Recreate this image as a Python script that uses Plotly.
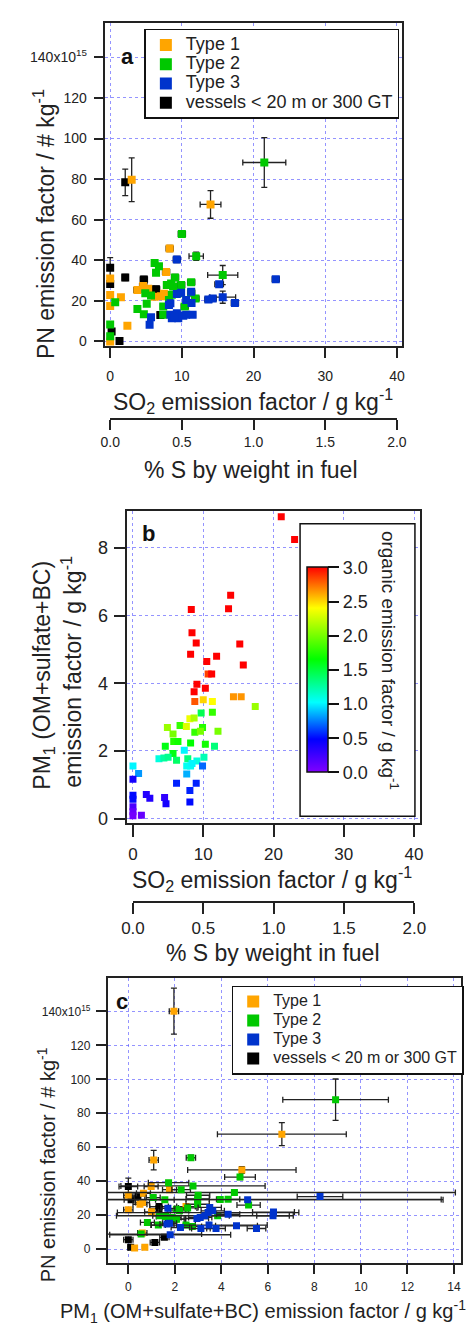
import plotly.graph_objects as go

W, H = 474, 1324

# ---------------- DATA ----------------
# Panel a: SO2 emission factor (g/kg) vs PN emission factor (1e15 #/kg)
a_t1_so2 = [14.0, 3.0, 8.3, 0.0, 0.0, 0.0, 1.5, 2.4, 0.0, 3.8, 4.6, 7.8, 6.2, 7.1, 5.3, 7.5]
a_t1_pn = [67.5, 79.7, 45.8, 31.0, 22.9, 17.5, 21.7, 7.7, 0.0, 25.3, 27.3, 34.2, 22.0, 22.2, 26.0, 23.5]
a_t1_so2_err = [1.45, 0.3, 0.5, 0.2, 0.2, 0.2, 0.3, 0.3, 0.2, 0.5, 0.5, 0.5, 0.4, 0.4, 0.4, 0.4]
a_t1_pn_err = [6.8, 10.8, 1.5, 1.0, 1.0, 1.0, 1.0, 1.0, 0.5, 1.5, 1.5, 1.5, 1.2, 1.2, 1.2, 1.2]

a_t2_so2 = [21.5, 10.0, 12.0, 15.7, 6.2, 6.8, 6.4, 9.05, 11.3, 7.9, 8.8, 9.9, 4.9, 5.7, 0.7,
            5.1, 3.8, 4.7, 7.4, 7.4, 8.2, 10.4, 11.9, 11.3, 0.0, 0.0, 8.6, 9.5, 8.5]
a_t2_pn = [88.2, 53.0, 42.0, 32.7, 38.7, 37.0, 33.8, 31.5, 29.2, 27.8, 27.0, 27.8, 23.7, 22.6, 19.3,
           18.5, 16.0, 13.4, 17.2, 13.1, 20.4, 17.2, 21.2, 24.0, 8.3, 2.5, 23.0, 23.7, 28.5]
a_t2_so2_err = [3.0, 0.5, 1.0, 2.1, 0.4, 0.4, 0.4, 0.5, 0.5, 0.4, 0.5, 0.5, 0.3, 0.3, 0.2,
                0.3, 0.3, 0.3, 0.4, 0.4, 0.4, 0.5, 0.5, 0.5, 0.1, 0.1, 0.4, 0.5, 0.4]
a_t2_pn_err = [12.3, 1.5, 2.0, 4.7, 1.2, 1.2, 1.2, 1.5, 1.2, 1.2, 1.2, 1.2, 1.0, 1.0, 1.0,
               1.0, 1.0, 1.0, 1.0, 1.0, 1.0, 1.0, 1.0, 1.0, 0.5, 0.5, 1.0, 1.0, 1.0]

a_t3_so2 = [23.1, 15.2, 15.7, 17.4, 13.7, 14.3, 9.3, 9.3, 9.9, 11.3, 10.6, 11.35, 8.2, 5.7, 5.5,
            8.4, 9.3, 8.6, 9.5, 10.2, 10.6, 11.5, 9.0, 8.4]
a_t3_pn = [30.6, 28.2, 21.8, 18.9, 20.7, 21.2, 40.4, 23.4, 24.0, 24.5, 20.4, 18.9, 18.0, 11.9, 8.2,
           13.1, 13.9, 11.4, 11.4, 12.6, 13.1, 13.1, 12.0, 18.8]
a_t3_so2_err = [0.5, 0.6, 1.8, 0.5, 0.5, 0.5, 0.5, 0.4, 0.4, 0.4, 0.4, 0.4, 0.4, 0.3, 0.3,
                0.4, 0.4, 0.4, 0.4, 0.4, 0.4, 0.4, 0.4, 0.4]
a_t3_pn_err = [1.0, 1.0, 3.0, 1.0, 1.0, 1.0, 1.5, 1.0, 1.0, 1.0, 1.0, 1.0, 1.0, 0.8, 0.8,
               0.8, 0.8, 0.8, 0.8, 0.8, 0.8, 0.8, 0.8, 1.0]

a_v_so2 = [2.1, 0.0, 0.0, 2.1, 4.7, 5.7, 6.4, 0.2, 1.3, 7.0]
a_v_pn = [78.4, 36.3, 28.3, 31.5, 30.5, 25.5, 25.7, 4.9, 0.2, 13.0]
a_v_so2_err = [0.3, 0.2, 0.2, 0.4, 0.5, 0.5, 0.5, 0.2, 0.2, 0.4]
a_v_pn_err = [6.5, 5.0, 1.5, 1.5, 1.5, 1.5, 1.5, 1.0, 0.5, 1.0]

# Panel b: SO2 (g/kg) vs PM1 (g/kg), colour = organic emission factor (g/kg)
b_so2 = [21.1, 23.0, 8.3, 13.9, 13.6, 8.4, 9.0, 8.2, 15.2, 15.7, 10.5, 11.9, 10.7, 11.2, 9.1,
         10.3, 8.7, 8.8, 10.0, 11.3, 14.3, 15.4, 17.4, 9.7, 11.3, 8.1, 8.7, 4.9, 6.7, 7.6,
         9.9, 8.8, 9.6, 12.1, 5.7, 5.8, 6.4, 8.2, 10.3, 11.6, 4.6, 7.3, 5.7, 3.7, 4.4,
         5.0, 6.2, 7.8, 9.1, 10.1, 7.65, 8.2, 8.4, 9.9, 7.65, 0.0, 0.8, 0.0, 6.2, 9.0,
         8.1, 0.0, 0.0, 1.9, 2.4, 4.5, 4.7, 8.1, 0.0, 0.0, 0.0, 1.2]
b_pm1 = [8.92, 8.25, 6.18, 6.6, 6.2, 5.49, 5.19, 4.86, 5.16, 4.54, 4.64, 4.8, 4.27, 4.27, 3.97,
         3.85, 3.75, 3.46, 3.51, 3.46, 3.6, 3.6, 3.31, 3.12, 3.14, 2.95, 2.97, 2.69, 2.75, 2.72,
         2.69, 2.55, 2.58, 2.58, 2.5, 2.28, 2.28, 2.23, 2.2, 2.14, 2.14, 2.02, 1.92, 1.77, 1.79,
         1.81, 1.72, 1.77, 1.7, 1.81, 1.55, 1.55, 1.63, 1.55, 1.32, 1.55, 1.33, 1.16, 1.04, 1.04,
         0.83, 0.69, 0.57, 0.71, 0.6, 0.62, 0.44, 0.49, 0.35, 0.2, 0.08, 0.1]
b_org = [3.5, 3.5, 3.5, 3.5, 3.5, 3.5, 3.5, 3.5, 3.5, 3.5, 3.5, 3.5, 2.85, 3.2, 3.0,
         3.3, 3.2, 2.8, 2.5, 2.4, 2.65, 2.65, 2.1, 1.45, 1.8, 2.35, 2.15, 2.1, 1.8, 2.3,
         1.75, 1.8, 2.0, 2.0, 2.0, 1.75, 1.7, 1.65, 1.7, 1.35, 1.6, 1.0, 1.6, 1.1, 1.25,
         1.3, 1.4, 1.35, 1.1, 1.2, 1.05, 1.05, 1.0, 0.7, 0.85, 1.0, 0.8, 0.4, 0.55, 0.55,
         0.55, 0.5, 0.5, 0.35, 0.35, 0.3, 0.4, 0.5, 0.2, 0.1, 0.05, 0.1]

# Panel c: PM1 (g/kg) vs PN (1e15 #/kg)
c_t1_pm1 = [1.96, 6.6, 1.09, 4.88, 0.98, 1.77, 0.0, 0.65, 0.5, 0.61, 0.0, 1.0, 2.48, 0.27, 0.71, 0.6]
c_t1_pn = [140.2, 67.7, 52.4, 46.6, 36.8, 35.0, 31.7, 32.8, 26.4, 27.4, 23.1, 21.9, 25.0, 0.6, 1.0, 9.5]
c_t1_pm1_err = [0.2, 2.77, 0.2, 2.33, 0.3, 0.3, 0.2, 0.3, 0.3, 0.3, 0.2, 0.3, 0.4, 0.1, 0.1, 0.2]
c_t1_pn_err = [13.6, 6.8, 5.7, 2.0, 1.5, 1.0, 1.0, 1.0, 1.0, 1.0, 1.0, 1.0, 1.0, 0.5, 0.5, 0.5]

c_t2_pm1 = [8.91, 2.69, 4.8, 1.73, 2.78, 2.27, 3.0, 4.56, 1.07, 1.57, 2.98, 3.95, 4.29, 5.17, 2.98,
            2.07, 2.2, 2.55, 3.84, 1.35, 1.87, 2.07, 0.82, 1.29, 2.48, 2.75, 0.55, 1.6, 2.0]
c_t2_pn = [88.0, 53.8, 42.4, 39.1, 37.2, 35.0, 31.7, 33.3, 30.3, 29.1, 29.5, 29.2, 29.3, 25.9, 26.4,
           23.5, 22.5, 24.2, 19.6, 19.6, 18.6, 17.6, 15.7, 14.1, 14.1, 13.3, 8.8, 19.2, 17.6]
c_t2_pm1_err = [2.27, 0.2, 0.66, 0.87, 3.1, 0.4, 0.5, 9.5, 0.3, 0.4, 0.5, 9.5, 0.5, 0.5, 0.5,
                0.4, 0.4, 0.4, 0.5, 0.3, 0.4, 0.4, 0.3, 0.3, 0.4, 0.4, 2.6, 0.4, 0.4]
c_t2_pn_err = [12.2, 1.5, 1.5, 1.0, 1.0, 1.0, 1.0, 1.0, 1.0, 1.0, 1.0, 1.0, 1.0, 1.0, 1.0,
               1.0, 1.0, 1.0, 1.0, 1.0, 1.0, 1.0, 1.0, 1.0, 1.0, 1.0, 0.8, 1.0, 1.0]

c_t3_pm1 = [8.24, 5.13, 6.24, 6.22, 3.5, 3.43, 3.63, 3.29, 3.09, 2.95, 4.29, 1.7, 1.66, 1.77, 2.24,
            3.12, 3.47, 3.77, 4.65, 5.51, 1.8]
c_t3_pn = [30.9, 29.1, 21.8, 19.6, 24.5, 21.5, 22.5, 19.6, 18.6, 18.0, 20.5, 24.0, 14.7, 15.2, 12.7,
           12.1, 14.1, 12.1, 13.7, 12.1, 8.4]
c_t3_pm1_err = [0.98, 8.4, 0.9, 0.7, 0.5, 3.9, 0.5, 3.8, 0.5, 0.5, 0.5, 0.3, 0.3, 0.3, 0.4,
                0.4, 2.5, 0.4, 0.9, 0.4, 2.6]
c_t3_pn_err = [1.0, 1.0, 1.0, 1.0, 1.0, 1.0, 1.0, 1.0, 1.0, 1.0, 1.0, 1.0, 0.8, 0.8, 0.8,
               0.8, 0.8, 0.8, 0.8, 0.8, 0.8]

c_v_pm1 = [0.0, 0.41, 0.12, 1.32, 1.32, 0.0, 1.14, 1.55, 0.1]
c_v_pn = [36.8, 31.3, 29.0, 25.0, 23.9, 5.5, 3.9, 6.9, 1.0]
c_v_pm1_err = [0.4, 0.3, 0.3, 0.4, 0.4, 0.2, 0.2, 0.2, 0.1]
c_v_pn_err = [5.0, 1.0, 1.0, 1.0, 1.0, 1.0, 1.0, 1.0, 0.5]

pn_ticks = [0, 20, 40, 60, 80, 100, 120, 140]
pn_ticktext = ["0", "20", "40", "60", "80", "100", "120", "140x10<sup>15</sup>"]
so2_ticks = [0, 10, 20, 30, 40]
s_ticks = [0.0, 0.5, 1.0, 1.5, 2.0]
s_ticktext = ["0.0", "0.5", "1.0", "1.5", "2.0"]
pm_ticks = [0, 2, 4, 6, 8]
pmx_ticks = [0, 2, 4, 6, 8, 10, 12, 14]
org_ticks = [0.0, 0.5, 1.0, 1.5, 2.0, 2.5, 3.0]
org_ticktext = ["0.0", "0.5", "1.0", "1.5", "2.0", "2.5", "3.0"]

type_names = ["Type 1", "Type 2", "Type 3", "vessels &lt; 20 m or 300 GT"]
type_colors = ["#FFA500", "#00C800", "#0033CC", "#000000"]

# ---------------- FIGURE ----------------
FONT = "Liberation Sans, Arial, sans-serif"
fig = go.Figure()


def px_x(p):
    return p / W


def px_y(p):
    return 1 - p / H


ERR = dict(color="#222222", thickness=1.3, width=3)

panel_a = [
    (a_t1_so2, a_t1_pn, a_t1_so2_err, a_t1_pn_err),
    (a_t2_so2, a_t2_pn, a_t2_so2_err, a_t2_pn_err),
    (a_t3_so2, a_t3_pn, a_t3_so2_err, a_t3_pn_err),
    (a_v_so2, a_v_pn, a_v_so2_err, a_v_pn_err),
]
panel_c = [
    (c_t1_pm1, c_t1_pn, c_t1_pm1_err, c_t1_pn_err),
    (c_t2_pm1, c_t2_pn, c_t2_pm1_err, c_t2_pn_err),
    (c_t3_pm1, c_t3_pn, c_t3_pm1_err, c_t3_pn_err),
    (c_v_pm1, c_v_pn, c_v_pm1_err, c_v_pn_err),
]
draw_order = [3, 0, 1, 2]

for i in draw_order:
    xs, ys, ex, ey = panel_a[i]
    fig.add_trace(go.Scatter(
        x=xs, y=ys, mode="markers", legendrank=i + 1,
        name='<span style="font-size:18px">' + type_names[i] + "</span>",
        marker=dict(symbol="square", size=8, color=type_colors[i]),
        error_x=dict(type="data", array=ex, **ERR),
        error_y=dict(type="data", array=ey, **ERR),
        xaxis="x", yaxis="y", legend="legend", hoverinfo="skip"))

for i in draw_order:
    xs, ys, ex, ey = panel_c[i]
    fig.add_trace(go.Scatter(
        x=xs, y=ys, mode="markers", legendrank=i + 1,
        name='<span style="font-size:16px">' + type_names[i] + "</span>",
        marker=dict(symbol="square", size=7, color=type_colors[i]),
        error_x=dict(type="data", array=ex, **ERR),
        error_y=dict(type="data", array=ey, **ERR),
        xaxis="x5", yaxis="y5", legend="legend2", hoverinfo="skip"))

rainbow = [[0.0, "#8000FF"], [0.16, "#0000FF"], [0.34, "#00FFFF"], [0.55, "#00FF00"],
           [0.8, "#FFFF00"], [0.9, "#FF8000"], [1.0, "#FF0000"]]

fig.add_trace(go.Scatter(
    x=b_so2, y=b_pm1, mode="markers", showlegend=False, hoverinfo="skip",
    xaxis="x3", yaxis="y3",
    marker=dict(symbol="square", size=7, color=b_org, colorscale=rainbow, cmin=0, cmax=3,
                showscale=True,
                colorbar=dict(x=px_x(302), xanchor="left", y=px_y(562), yanchor="top",
                              len=205, lenmode="pixels", thickness=21, thicknessmode="pixels",
                              xpad=0, ypad=0, outlinewidth=1.5, outlinecolor="#111",
                              tickvals=org_ticks, ticktext=org_ticktext, ticks="outside",
                              ticklen=11, tickwidth=1.5, tickcolor="#111",
                              tickfont=dict(size=18, color="#222", family=FONT)))))

# dummy traces to realise the % S axes
fig.add_trace(go.Scatter(x=[0, 2], y=[0, 0], mode="markers", marker=dict(opacity=0),
                         showlegend=False, hoverinfo="skip", xaxis="x2", yaxis="y2"))
fig.add_trace(go.Scatter(x=[0, 2], y=[0, 0], mode="markers", marker=dict(opacity=0),
                         showlegend=False, hoverinfo="skip", xaxis="x4", yaxis="y4"))

GRID = dict(showgrid=True, gridcolor="rgba(90,90,255,0.65)", griddash="dot", gridwidth=1,
            zeroline=False, showline=True, linecolor="#222", linewidth=1.5, mirror=True,
            ticks="outside", tickcolor="#222", tickwidth=1.5)
SEC = dict(showgrid=False, zeroline=False, showline=True, linecolor="#222", linewidth=1.5,
           ticks="outside", tickcolor="#222", tickwidth=1.5, mirror=False)

fig.update_layout(
    width=W, height=H, margin=dict(l=0, r=0, t=0, b=0),
    paper_bgcolor="white", plot_bgcolor="white",
    font=dict(family=FONT, color="#222"),
    xaxis=dict(domain=[px_x(90), px_x(402)], range=[-0.66, 40.66], tickvals=so2_ticks,
               ticklen=10, tickfont=dict(size=14), ticklabelstandoff=6, anchor="y", **GRID),
    yaxis=dict(domain=[px_y(340), px_y(15)], range=[-2.5, 157], tickvals=pn_ticks,
               ticktext=pn_ticktext, ticklen=10, tickfont=dict(size=14), ticklabelstandoff=4,
               anchor="x", **GRID),
    xaxis2=dict(domain=[px_x(95), px_x(397)], range=[0, 2], tickvals=s_ticks, ticktext=s_ticktext,
                ticklen=10, tickfont=dict(size=14), anchor="y2", **SEC),
    yaxis2=dict(domain=[px_y(412), px_y(402)], range=[0, 1], visible=False, anchor="x2",
                showticklabels=False),
    xaxis3=dict(domain=[px_x(113), px_x(421)], range=[-0.81, 40.8], tickvals=so2_ticks,
                ticklen=12, tickfont=dict(size=17), ticklabelstandoff=3, anchor="y3", **GRID),
    yaxis3=dict(domain=[px_y(819), px_y(505.7)], range=[-0.14, 9.08], tickvals=pm_ticks,
                ticklen=12, tickfont=dict(size=18), ticklabelstandoff=2, anchor="x3", **GRID),
    xaxis4=dict(domain=[px_x(119), px_x(415.3)], range=[0, 2], tickvals=s_ticks, ticktext=s_ticktext,
                ticklen=11, tickfont=dict(size=17), anchor="y4", **SEC),
    yaxis4=dict(domain=[px_y(897), px_y(887)], range=[0, 1], visible=False, anchor="x4",
                showticklabels=False),
    xaxis5=dict(domain=[px_x(92.3), px_x(464)], range=[-0.89, 14.28], tickvals=pmx_ticks,
                ticklen=9, tickfont=dict(size=12), ticklabelstandoff=3, anchor="y5", **GRID),
    yaxis5=dict(domain=[px_y(1261), px_y(974.3)], range=[-8.4, 159.8], tickvals=pn_ticks,
                ticktext=pn_ticktext, ticklen=10, tickfont=dict(size=12), ticklabelstandoff=3,
                anchor="x5", **GRID),
    legend=dict(x=px_x(131), y=px_y(21), xanchor="left", yanchor="top", bgcolor="white",
                bordercolor="#111", borderwidth=1.5, font=dict(size=12.5), itemsizing="constant",
                traceorder="normal"),
    legend2=dict(x=px_x(223), y=px_y(982), xanchor="left", yanchor="top", bgcolor="white",
                 bordercolor="#111", borderwidth=1.5, font=dict(size=11.3), itemsizing="constant",
                 traceorder="normal"),
    showlegend=True,
)

# box around the colour bar
fig.add_shape(type="rect", xref="paper", yref="paper", x0=px_x(295), x1=px_x(416),
              y0=px_y(812), y1=px_y(518), line=dict(color="#111", width=1.5),
              fillcolor="white", layer="above")

TITLE = dict(size=23, family=FONT, color="#222")
ann = [
    dict(text="SO<sub>2</sub> emission factor / g kg<sup>-1</sup>", x=px_x(245), y=px_y(394.5),
         xanchor="center", yanchor="middle", font=TITLE),
    dict(text="% S by weight in fuel", x=px_x(243.5), y=px_y(464.5), xanchor="center",
         yanchor="middle", font=TITLE),
    dict(text="PN emission factor / # kg<sup>-1</sup>", x=px_x(26), y=px_y(355), textangle=-90,
         xanchor="center", yanchor="bottom", font=TITLE),
    dict(text="SO<sub>2</sub> emission factor / g kg<sup>-1</sup>", x=px_x(265), y=px_y(875),
         xanchor="center", yanchor="middle", font=TITLE),
    dict(text="% S by weight in fuel", x=px_x(267), y=px_y(949), xanchor="center",
         yanchor="middle", font=TITLE),
    dict(text="PM<sub>1</sub> (OM+sulfate+BC)", x=px_x(25), y=px_y(787), textangle=-90,
         xanchor="center", yanchor="bottom", font=TITLE),
    dict(text="emission factor / g kg<sup>-1</sup>", x=px_x(55), y=px_y(785), textangle=-90,
         xanchor="center", yanchor="bottom", font=TITLE),
    dict(text="organic emission factor / g kg<sup>-1</sup>", x=px_x(390), y=px_y(523),
         textangle=90, xanchor="center", yanchor="top", font=dict(size=19, family=FONT, color="#222")),
    dict(text="PN emission factor / # kg<sup>-1</sup>", x=px_x(28), y=px_y(1282), textangle=-90,
         xanchor="center", yanchor="bottom", font=dict(size=20, family=FONT, color="#222")),
    dict(text="PM<sub>1</sub> (OM+sulfate+BC) emission factor / g kg<sup>-1</sup>", x=px_x(256),
         y=px_y(1309), xanchor="center", yanchor="middle",
         font=dict(size=20, family=FONT, color="#222")),
    dict(text="<b>a</b>", x=px_x(113), y=px_y(49), xanchor="center", yanchor="middle",
         font=dict(size=22, family=FONT, color="#111")),
    dict(text="<b>b</b>", x=px_x(135), y=px_y(528), xanchor="center", yanchor="middle",
         font=dict(size=22, family=FONT, color="#111")),
    dict(text="<b>c</b>", x=px_x(107), y=px_y(998), xanchor="center", yanchor="middle",
         font=dict(size=22, family=FONT, color="#111")),
]
for a in ann:
    fig.add_annotation(xref="paper", yref="paper", showarrow=False, **a)

fig.write_html("out.html")
